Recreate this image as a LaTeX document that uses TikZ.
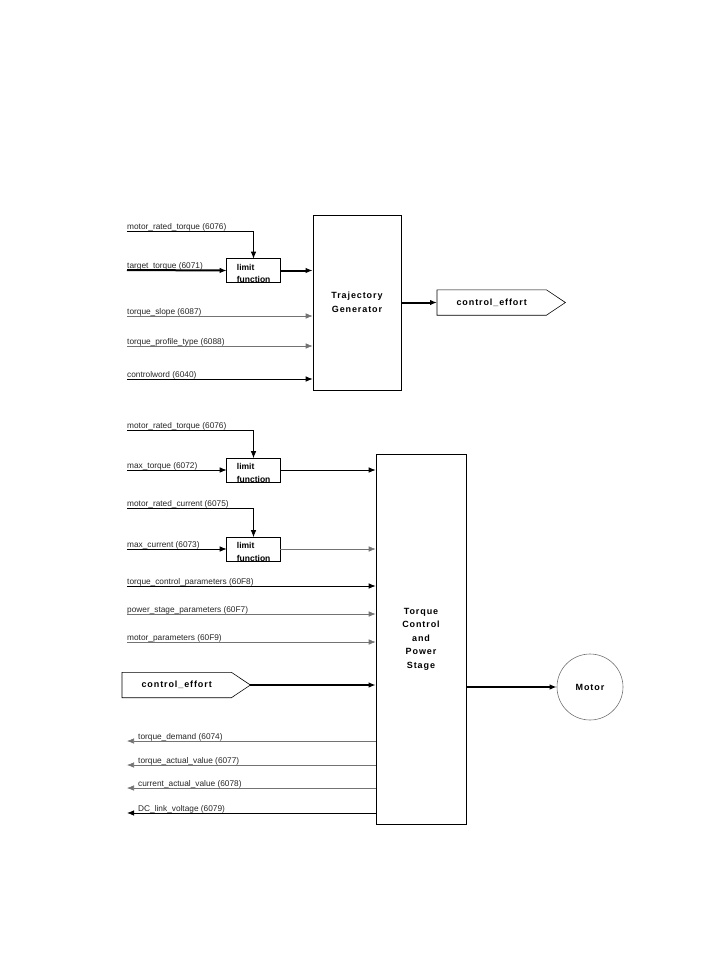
\documentclass[tikz,border=0pt]{standalone}
\usepackage{fontspec}
\setmainfont{Liberation Sans}
\newfontfamily\blockfont[LetterSpace=10]{Liberation Sans}
\usetikzlibrary{arrows.meta,positioning}

\tikzset{
  sig/.style={font=\fontsize{8.3}{10}\selectfont, anchor=base west, inner sep=0pt, text=black!85},
  thinline/.style={draw=black!55, line width=0.6pt},
  darkline/.style={draw=black, line width=0.8pt},
  bigline/.style={draw=black, line width=2pt},
  tip/.style={-{Latex[length=7pt,width=5.5pt]}},
  limitbox/.style={line width=0.6pt, minimum width=53pt, minimum height=23pt, inner sep=0pt},
  limittext/.style={font=\fontsize{8.5}{12.5}\selectfont\bfseries, align=left, inner sep=0pt, anchor=north west},
  block/.style={draw, line width=0.6pt, inner sep=0pt, align=center, font=\blockfont\bfseries\fontsize{9}{13.5}\selectfont},
  effort/.style={minimum width=109pt, minimum height=25pt, inner sep=0pt, font=\blockfont\bfseries\fontsize{9}{11}\selectfont}
}

\begin{document}
\begin{tikzpicture}[x=1pt,y=-1pt]
\useasboundingbox (0,0) rectangle (714,978);

% --- trajectory generator part
\node[block, minimum width=88pt, minimum height=175pt] (traj) at (357,302.5) {Trajectory\\Generator};
\node[limitbox] (lim1) at (253.5,270.5) {};
\begin{scope}
  \clip (lim1.north west) rectangle (lim1.south east);
  \node[limittext] (lim1txt) at ([xshift=10pt,yshift=-5pt]lim1.north west) {limit\\function};
\end{scope}
\draw[line width=0.6pt] (lim1.north west) rectangle (lim1.south east);

\coordinate (mrt1) at (127,231);
\coordinate (ttq) at (127,270);
\coordinate (tsl) at (127,316);
\coordinate (tpt) at (127,346);
\coordinate (cw) at (127,379);
\node[sig] (mrt1l) at (127,229) {motor\_rated\_torque (6076)};
\node[sig] (ttql) at (127,268) {target\_torque (6071)};
\node[sig] (tsll) at (127,314) {torque\_slope (6087)};
\node[sig] (tptl) at (127,344) {torque\_profile\_type (6088)};
\node[sig] (cwl) at (127,377) {controlword (6040)};

\draw[darkline,tip] (mrt1) -| (lim1.north);
\draw[bigline,tip] (ttq) -- (lim1.west);
\draw[bigline,tip] (lim1.east) -- (lim1.east -| traj.west);
\draw[thinline,tip] (tsl) -- (tsl -| traj.west);
\draw[thinline,tip] (tpt) -- (tpt -| traj.west);
\draw[darkline,tip] (cw) -- (cw -| traj.west);

\node[effort, anchor=west] (eff1) at (437,302.5) {control\_effort};
\draw[line width=0.6pt] (eff1.north west) -- (eff1.north east) -- ([xshift=19pt]eff1.east) -- (eff1.south east) -- (eff1.south west) -- cycle;
\draw[bigline,tip] (traj) -- (eff1);

% --- torque control and power stage part
\node[block, minimum width=90pt, minimum height=370pt] (tcp) at (421,639) {Torque\\Control\\and\\Power\\Stage};
\node[limitbox] (lim2) at (253.5,470) {};
\node[limitbox] (lim3) at (253.5,549) {};
\begin{scope}
  \clip (lim2.north west) rectangle (lim2.south east);
  \node[limittext] (lim2txt) at ([xshift=10pt,yshift=-5pt]lim2.north west) {limit\\function};
\end{scope}
\begin{scope}
  \clip (lim3.north west) rectangle (lim3.south east);
  \node[limittext] (lim3txt) at ([xshift=10pt,yshift=-5pt]lim3.north west) {limit\\function};
\end{scope}
\draw[line width=0.6pt] (lim2.north west) rectangle (lim2.south east);
\draw[line width=0.6pt] (lim3.north west) rectangle (lim3.south east);

\coordinate (mrt2) at (127,430);
\coordinate (mxt) at (127,470);
\coordinate (mrc) at (127,508);
\coordinate (mxc) at (127,549);
\coordinate (tcpar) at (127,586);
\coordinate (pspar) at (127,614);
\coordinate (mpar) at (127,642);
\node[sig] (mrt2l) at (127,428) {motor\_rated\_torque (6076)};
\node[sig] (mxtl) at (127,468) {max\_torque (6072)};
\node[sig] (mrcl) at (127,506) {motor\_rated\_current (6075)};
\node[sig] (mxcl) at (127,547) {max\_current (6073)};
\node[sig] (tcparl) at (127,584) {torque\_control\_parameters (60F8)};
\node[sig] (psparl) at (127,612) {power\_stage\_parameters (60F7)};
\node[sig] (mparl) at (127,640) {motor\_parameters (60F9)};

\draw[darkline,tip] (mrt2) -| (lim2.north);
\draw[darkline,tip] (mxt) -- (lim2.west);
\draw[darkline,tip] (lim2.east) -- (lim2.east -| tcp.west);
\draw[darkline,tip] (mrc) -| (lim3.north);
\draw[darkline,tip] (mxc) -- (lim3.west);
\draw[thinline,tip] (lim3.east) -- (lim3.east -| tcp.west);
\draw[darkline,tip] (tcpar) -- (tcpar -| tcp.west);
\draw[thinline,tip] (pspar) -- (pspar -| tcp.west);
\draw[thinline,tip] (mpar) -- (mpar -| tcp.west);

\node[effort, anchor=west] (eff2) at (122,685) {control\_effort};
\draw[line width=0.6pt] (eff2.north west) -- (eff2.north east) -- ([xshift=19pt]eff2.east) -- (eff2.south east) -- (eff2.south west) -- cycle;
\coordinate (eff2tip) at ([xshift=19pt]eff2.east);
\draw[bigline,tip] (eff2tip) -- (eff2tip -| tcp.west);

% outputs
\coordinate (tdem) at (127,741);
\coordinate (tact) at (127,765);
\coordinate (cact) at (127,788);
\coordinate (dcv) at (127,813);
\node[sig] (tdeml) at (138,739) {torque\_demand (6074)};
\node[sig] (tactl) at (138,763) {torque\_actual\_value (6077)};
\node[sig] (cactl) at (138,786) {current\_actual\_value (6078)};
\node[sig] (dcvl) at (138,811) {DC\_link\_voltage (6079)};
\draw[thinline,tip] (tdem -| tcp.west) -- (tdem);
\draw[thinline,tip] (tact -| tcp.west) -- (tact);
\draw[thinline,tip] (cact -| tcp.west) -- (cact);
\draw[darkline,tip] (dcv -| tcp.west) -- (dcv);

\node[circle, draw=black!55, line width=0.6pt, minimum size=66pt, inner sep=0pt, font=\blockfont\bfseries\fontsize{9}{11}\selectfont] (motor) at (590,687) {Motor};
\draw[bigline,tip] (motor -| tcp.east) -- (motor.west);
\end{tikzpicture}
\end{document}
